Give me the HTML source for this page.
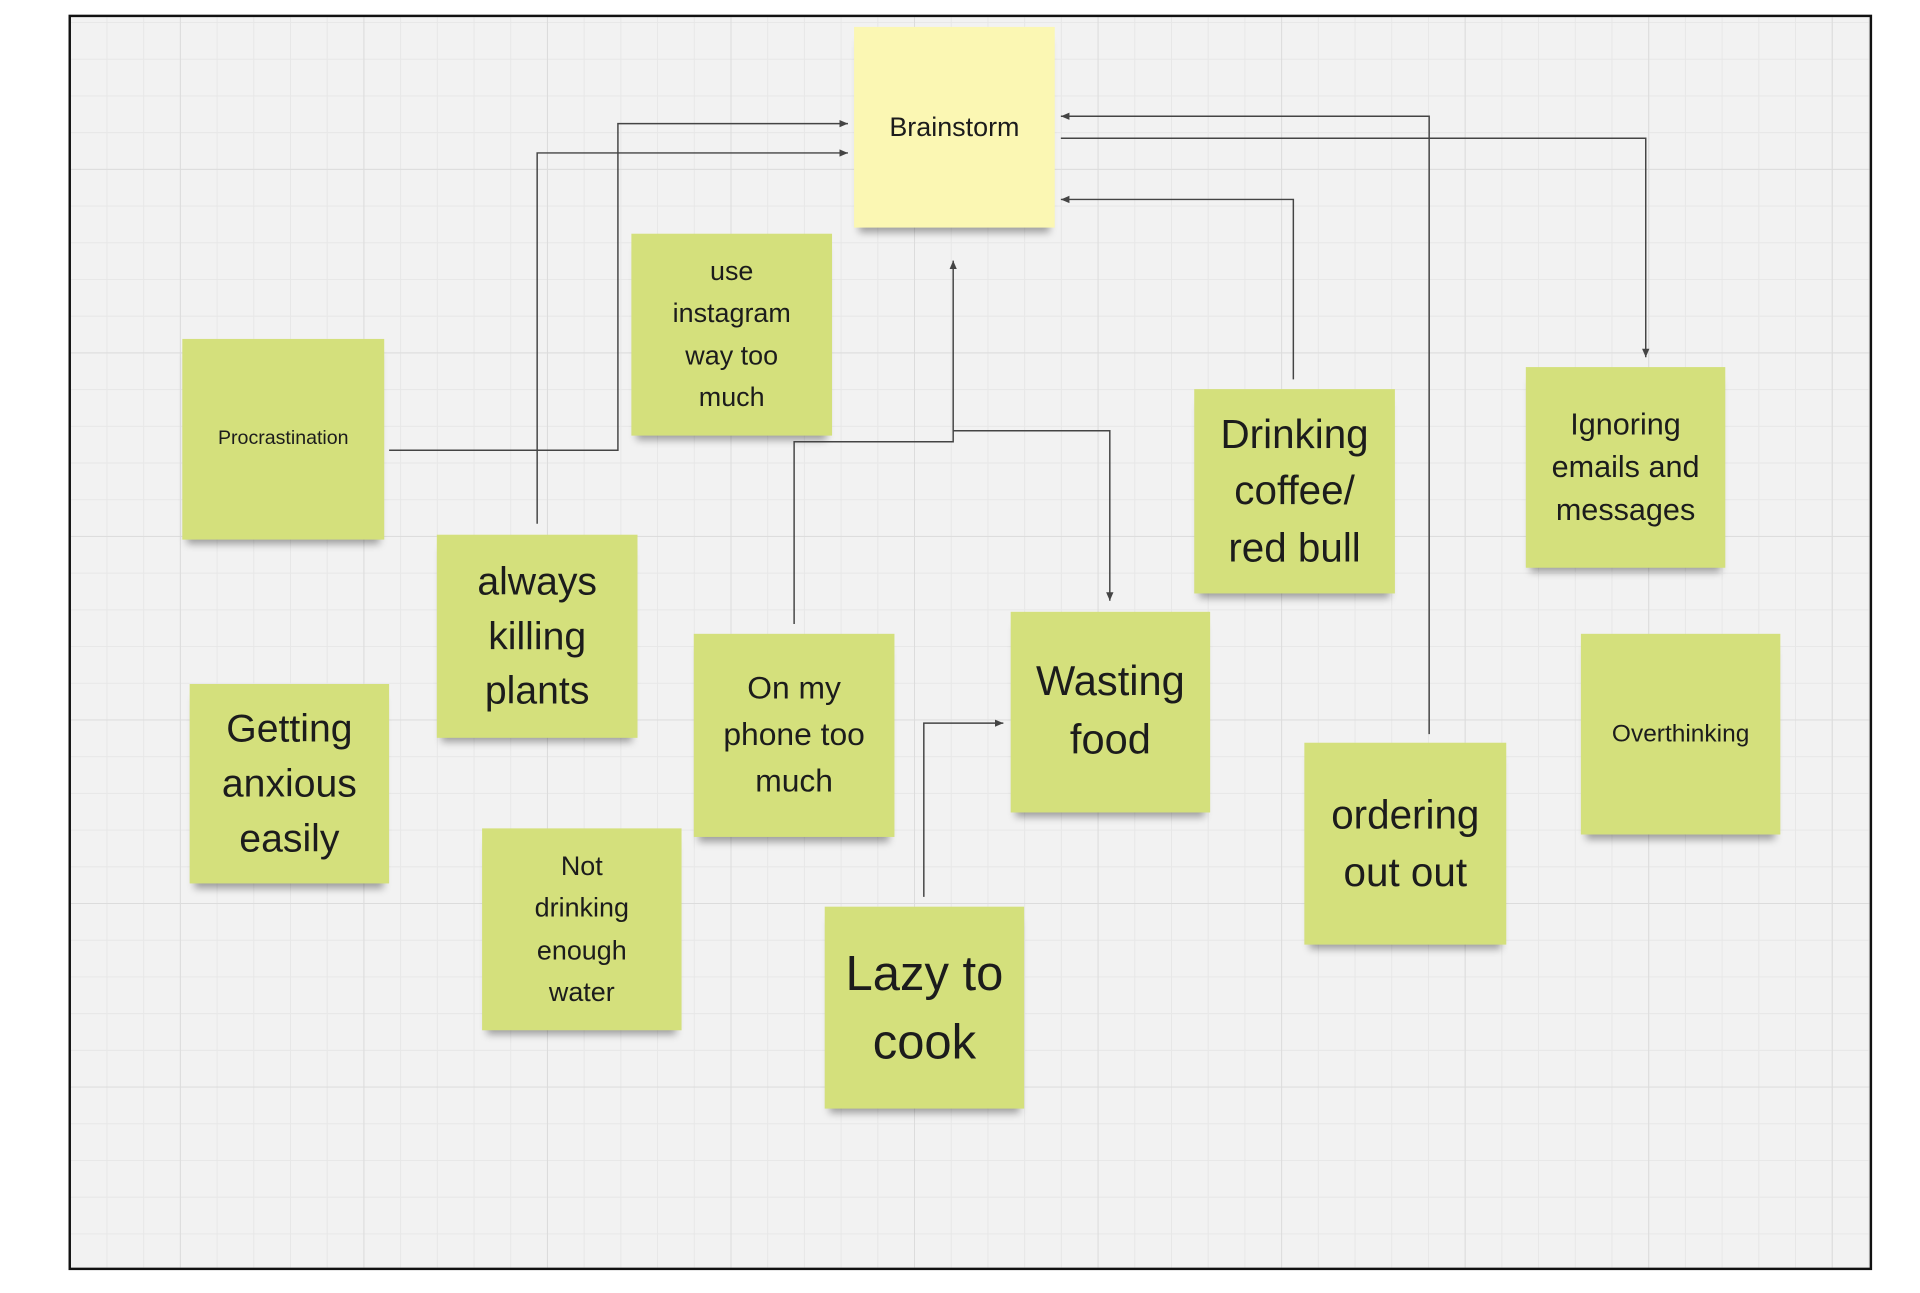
<!DOCTYPE html>
<html><head><meta charset="utf-8"><style>
html,body{margin:0;padding:0;background:#fff;width:1920px;height:1293px;overflow:hidden}
#s{position:absolute;left:0;top:0;width:1570px;height:1057px;transform:scale(1.2236);transform-origin:0 0}
#f{position:absolute;left:56px;top:12px;width:1470px;height:1022px;border:2px solid #111;background-color:#f2f2f2;
background-image:linear-gradient(#dcdcdc 1px,transparent 1px),linear-gradient(90deg,#dcdcdc 1px,transparent 1px),linear-gradient(#e7e7e7 1px,transparent 1px),linear-gradient(90deg,#e7e7e7 1px,transparent 1px);
background-size:150px 150px,150px 150px,30px 30px,30px 30px;background-position:-61px -26px,-61px -26px,-61px -26px,-61px -26px}
.n{position:absolute;background:#d4e07c;display:flex;align-items:center;justify-content:center;text-align:center;color:#1c1c1c;font-family:"Liberation Sans",sans-serif;line-height:1.4;box-shadow:0 8px 6px -4px rgba(0,0,0,.35)}
svg{position:absolute;left:0;top:0}
</style></head><body><div id="s"><div id="f"></div>
<div class="n" style="left:698px;top:22px;width:164px;height:164px;background:#fbf7b3;font-size:22px">Brainstorm</div>
<div class="n" style="left:516px;top:191px;width:164px;height:165px;font-size:22px;line-height:1.55">use<br>instagram<br>way too<br>much</div>
<div class="n" style="left:149px;top:277px;width:165px;height:164px;font-size:16px">Procrastination</div>
<div class="n" style="left:357px;top:437px;width:164px;height:166px;font-size:32px">always<br>killing<br>plants</div>
<div class="n" style="left:155px;top:559px;width:163px;height:163px;font-size:32px">Getting<br>anxious<br>easily</div>
<div class="n" style="left:394px;top:677px;width:163px;height:165px;font-size:22px;line-height:1.55">Not<br>drinking<br>enough<br>water</div>
<div class="n" style="left:567px;top:518px;width:164px;height:166px;font-size:26px;line-height:1.45">On my<br>phone too<br>much</div>
<div class="n" style="left:826px;top:500px;width:163px;height:164px;font-size:34px">Wasting<br>food</div>
<div class="n" style="left:674px;top:741px;width:163px;height:165px;font-size:40px">Lazy to<br>cook</div>
<div class="n" style="left:976px;top:318px;width:164px;height:167px;font-size:33px">Drinking<br>coffee/<br>red bull</div>
<div class="n" style="left:1066px;top:607px;width:165px;height:165px;font-size:33px">ordering<br>out out</div>
<div class="n" style="left:1247px;top:300px;width:163px;height:164px;font-size:25px">Ignoring<br>emails and<br>messages</div>
<div class="n" style="left:1292px;top:518px;width:163px;height:164px;font-size:20px">Overthinking</div>
<svg width="1570" height="1057" fill="none" stroke="#444" stroke-width="1.2">
<defs><marker id="a" markerWidth="8" markerHeight="8" refX="7" refY="4" orient="auto" markerUnits="userSpaceOnUse"><path d="M0,1 L7,4 L0,7z" fill="#444" stroke="none"/></marker></defs>
<polyline points="318,368 505,368 505,101 693,101" marker-end="url(#a)"/>
<polyline points="439,428 439,125 693,125" marker-end="url(#a)"/>
<polyline points="649,510 649,361 779,361 779,213" marker-end="url(#a)"/>
<polyline points="779,352 907,352 907,491" marker-end="url(#a)"/>
<polyline points="1057,310 1057,163 867,163" marker-end="url(#a)"/>
<polyline points="1168,600 1168,95 867,95" marker-end="url(#a)"/>
<polyline points="867,113 1345,113 1345,292" marker-end="url(#a)"/>
<polyline points="755,733 755,591 820,591" marker-end="url(#a)"/>
</svg></div></body></html>
